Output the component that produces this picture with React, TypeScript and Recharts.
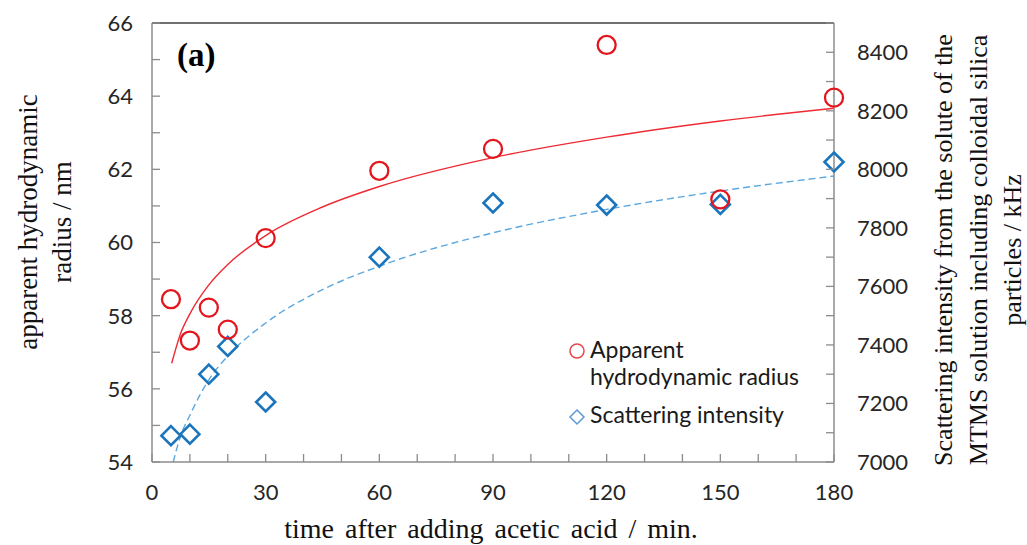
import {
  ComposedChart,
  XAxis,
  YAxis,
  Scatter,
  Line,
  ReferenceLine,
  Legend,
} from "recharts";

// measured points
const timeMin = [5, 10, 15, 20, 30, 60, 90, 120, 150, 180];
const radiusNm = [58.45, 57.32, 58.22, 57.62, 60.12, 61.96, 62.56, 65.4, 61.18, 63.96];
const intensityKHz = [7090, 7095, 7300, 7395, 7205, 7700, 7885, 7878, 7880, 8025];

// trend curves
const radiusFitTime = [5.2, 7.5, 10, 15, 20, 30, 45, 60, 90, 120, 150, 180];
const radiusFitNm = [56.7, 57.5, 58.05, 58.84, 59.4, 60.19, 60.97, 61.53, 62.32, 62.88, 63.32, 63.67];
const intensityFitTime = [5.6, 7.5, 10, 15, 20, 30, 45, 60, 90, 120, 150, 180];
const intensityFitKHz = [7000, 7087, 7160, 7281, 7362, 7475, 7589, 7669, 7783, 7863, 7926, 7977];

const xTicks = [0, 10, 20, 30, 40, 50, 60, 70, 80, 90, 100, 110, 120, 130, 140, 150, 160, 170, 180];
const xLabels = [0, 30, 60, 90, 120, 150, 180];
const leftTicks = [54, 55, 56, 57, 58, 59, 60, 61, 62, 63, 64, 65, 66];
const leftLabels = [54, 56, 58, 60, 62, 64, 66];
const rightTicks = [7000, 7100, 7200, 7300, 7400, 7500, 7600, 7700, 7800, 7900, 8000, 8100, 8200, 8300, 8400, 8500];
const rightLabels = [7000, 7200, 7400, 7600, 7800, 8000, 8200, 8400];

const radiusPoints = timeMin.map((x, i) => ({ x, y: radiusNm[i] }));
const intensityPoints = timeMin.map((x, i) => ({ x, y: intensityKHz[i] }));
const radiusFit = radiusFitTime.map((x, i) => ({ x, y: radiusFitNm[i] }));
const intensityFit = intensityFitTime.map((x, i) => ({ x, y: intensityFitKHz[i] }));

const AXIS = "#8c8c8c";
const RED = "#e3161e";
const BLUE = "#1b75bc";
const SANS = "Lato, 'Open Sans', sans-serif";
const SERIF = "'Liberation Serif', 'Times New Roman', serif";
const TICK = 8;

function LeftTick({ x, y, payload }: any) {
  const v = payload.value;
  return (
    <g>
      <line x1={x} x2={x + TICK} y1={y} y2={y} stroke={AXIS} strokeWidth={1.3} />
      {leftLabels.includes(v) && (
        <text x={x - 19} y={y} dy="0.36em" textAnchor="end" fontFamily={SANS} fontSize={22} fill="#262626">
          {v}
        </text>
      )}
    </g>
  );
}

function RightTick({ x, y, payload }: any) {
  const v = payload.value;
  return (
    <g>
      <line x1={x - TICK} x2={x} y1={y} y2={y} stroke={AXIS} strokeWidth={1.3} />
      {rightLabels.includes(v) && (
        <text x={x + 23} y={y} dy="0.36em" textAnchor="start" fontFamily={SANS} fontSize={22} fill="#262626">
          {v}
        </text>
      )}
    </g>
  );
}

function BottomTick({ x, y, payload }: any) {
  const v = payload.value;
  return (
    <g>
      <line x1={x} x2={x} y1={y} y2={y - TICK} stroke={AXIS} strokeWidth={1.3} />
      {xLabels.includes(v) && (
        <text x={x} y={y + 30} dy="0.36em" textAnchor="middle" fontFamily={SANS} fontSize={22} fill="#262626">
          {v}
        </text>
      )}
    </g>
  );
}

const circleShape = (p: any) => (
  <circle cx={p.cx} cy={p.cy} r={9} fill="none" stroke={RED} strokeWidth={2.3} />
);

const diamondShape = (p: any) => {
  const s = 9.5;
  return (
    <polygon
      points={`${p.cx},${p.cy - s} ${p.cx + s},${p.cy} ${p.cx},${p.cy + s} ${p.cx - s},${p.cy}`}
      fill="none"
      stroke={BLUE}
      strokeWidth={2.6}
    />
  );
};

function LegendBox() {
  return (
    <svg width={270} height={105}>
      <circle cx={17} cy={21} r={7} fill="none" stroke="#e8454d" strokeWidth={1.5} />
      <text x={30} y={28} fontFamily={SANS} fontSize={23} fill="#1a1a1a">
        Apparent
      </text>
      <text x={30} y={55} fontFamily={SANS} fontSize={23} fill="#1a1a1a">
        hydrodynamic radius
      </text>
      <polygon points="17,80 24,87 17,94 10,87" fill="none" stroke="#5b9bd5" strokeWidth={1.5} />
      <text x={30} y={93} fontFamily={SANS} fontSize={23} fill="#1a1a1a">
        Scattering intensity
      </text>
    </svg>
  );
}

const xTitle = () => (
  <text x={491} y={538} textAnchor="middle" fontFamily={SERIF} fontSize={28} wordSpacing={4} fill="#111">
    time after adding acetic acid / min.
  </text>
);

const leftTitle = () => (
  <g fontFamily={SERIF} fontSize={27} fill="#111" textAnchor="middle">
    <text transform="translate(37,222) rotate(-90)">apparent hydrodynamic</text>
    <text transform="translate(71,222) rotate(-90)">radius / nm</text>
  </g>
);

const rightTitle = () => (
  <g fontFamily={SERIF} fontSize={26} fill="#111" textAnchor="middle">
    <text transform="translate(952,250) rotate(-90)">Scattering intensity from the solute of the</text>
    <text transform="translate(987,250) rotate(-90)">MTMS solution including colloidal silica</text>
    <text transform="translate(1021,250) rotate(-90)">particles / kHz</text>
  </g>
);

const panelTag = () => (
  <text x={177} y={66} fontFamily={SERIF} fontSize={33} fontWeight="bold" fill="#000">
    (a)
  </text>
);

export default function App() {
  return (
    <div style={{ position: "absolute", left: 0, top: 0, background: "#fff" }}>
      <ComposedChart
        width={1027}
        height={545}
        margin={{ top: 23, right: 133, bottom: 53, left: 92 }}
      >
        <XAxis
          xAxisId="t"
          type="number"
          dataKey="x"
          domain={[0, 180]}
          ticks={xTicks}
          interval={0}
          height={30}
          tickSize={0}
          tickMargin={0}
          tickLine={false}
          axisLine={{ stroke: AXIS, strokeWidth: 1.5 }}
          tick={<BottomTick />}
          label={xTitle}
        />
        <YAxis
          yAxisId="left"
          type="number"
          dataKey="y"
          domain={[54, 66]}
          ticks={leftTicks}
          interval={0}
          width={60}
          tickSize={0}
          tickMargin={0}
          tickLine={false}
          axisLine={{ stroke: AXIS, strokeWidth: 1.5 }}
          tick={<LeftTick />}
          label={leftTitle}
        />
        <YAxis
          yAxisId="right"
          orientation="right"
          type="number"
          dataKey="y"
          domain={[7000, 8500]}
          ticks={rightTicks}
          interval={0}
          width={60}
          tickSize={0}
          tickMargin={0}
          tickLine={false}
          axisLine={{ stroke: AXIS, strokeWidth: 1.5 }}
          tick={<RightTick />}
          label={rightTitle}
        />
        <ReferenceLine
          xAxisId="t"
          yAxisId="left"
          y={66}
          stroke="#404040"
          strokeWidth={1.5}
          label={panelTag}
        />
        <Line
          xAxisId="t"
          yAxisId="right"
          data={intensityFit}
          dataKey="y"
          type="monotone"
          stroke="#5ba8e0"
          strokeWidth={1.4}
          strokeDasharray="7 4"
          dot={false}
          activeDot={false}
          isAnimationActive={false}
        />
        <Line
          xAxisId="t"
          yAxisId="left"
          data={radiusFit}
          dataKey="y"
          type="monotone"
          stroke="#ee2a33"
          strokeWidth={1.4}
          dot={false}
          activeDot={false}
          isAnimationActive={false}
        />
        <Scatter
          name="Scattering intensity"
          xAxisId="t"
          yAxisId="right"
          data={intensityPoints}
          dataKey="y"
          shape={diamondShape}
          isAnimationActive={false}
        />
        <Scatter
          name="Apparent hydrodynamic radius"
          xAxisId="t"
          yAxisId="left"
          data={radiusPoints}
          dataKey="y"
          shape={circleShape}
          isAnimationActive={false}
        />
        <Legend
          layout="vertical"
          align="center"
          verticalAlign="middle"
          content={() => <LegendBox />}
          wrapperStyle={{ left: 560, top: 330, width: 270 }}
        />
      </ComposedChart>
    </div>
  );
}
